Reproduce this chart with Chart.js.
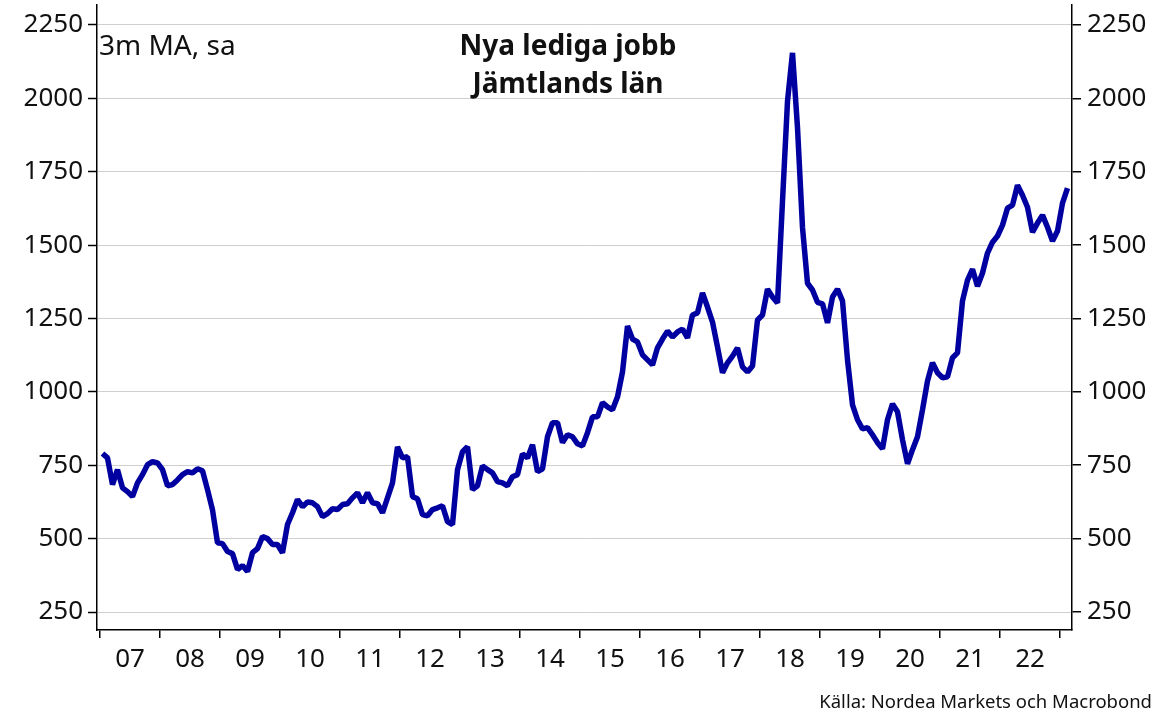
<!DOCTYPE html>
<html>
<head>
<meta charset="utf-8">
<script src="https://cdn.jsdelivr.net/npm/chart.js@4.4.1/dist/chart.umd.min.js"></script>
<style>
    body { margin: 0; background: #fff; font-family: "Noto Sans", sans-serif; }
    #wrap { position: relative; width: 1161px; height: 714px; }
    .txt { position: absolute; color: #111; white-space: nowrap; }
    #title { left: 368px; width: 400px; top: 25px; text-align: center; font-weight: bold; font-size: 28px; line-height: 38px; }
    #note { left: 99px; top: 25px; font-size: 28px; line-height: 38px; }
    #source { right: 9px; top: 688px; font-size: 18.5px; line-height: 25px; }
</style>
</head>
<body>
<div id="wrap">
    <canvas id="myChart" width="1161" height="714"></canvas>
    <div class="txt" id="title">Nya lediga jobb<br>Jämtlands län</div>
    <div class="txt" id="note">3m MA, sa</div>
    <div class="txt" id="source">Källa: Nordea Markets och Macrobond</div>
</div>
<script>
// DATA (monthly, Jan 2007 onwards)

const years = ['07', '08', '09', '10', '11', '12', '13', '14', '15', '16', '17', '18', '19', '20', '21', '22'];

const yTicks = [250, 500, 750, 1000, 1250, 1500, 1750, 2000, 2250];

const vacancies = [
    790, 775, 684, 735, 673, 660, 643, 690, 718, 752, 762, 758,
    735, 680, 684, 700, 718, 728, 724, 738, 731, 667, 598, 486,
    483, 456, 449, 395, 408, 388, 452, 466, 507, 500, 480, 480,
    452, 548, 588, 633, 609, 625, 622, 609, 575, 585, 602, 599,
    616, 619, 639, 656, 622, 656, 622, 619, 588, 639, 690, 813,
    775, 779, 643, 636, 582, 578, 599, 605, 612, 558, 548, 735,
    796, 813, 667, 680, 748, 735, 724, 694, 690, 680, 711, 718,
    789, 775, 820, 728, 738, 847, 895, 895, 827, 854, 847, 823,
    816, 861, 915, 915, 963, 949, 939, 983, 1068, 1224, 1180, 1170,
    1126, 1109, 1092, 1150, 1180, 1207, 1187, 1204, 1214, 1184, 1262, 1269,
    1337, 1289, 1238, 1153, 1065, 1099, 1122, 1150, 1085, 1068, 1088, 1245,
    1262, 1350, 1323, 1303, 1650, 1990, 2155, 1900, 1560, 1370, 1347, 1305,
    1300, 1235, 1323, 1350, 1310, 1109, 956, 905, 874, 878, 854, 827,
    806, 905, 959, 932, 837, 755, 803, 847, 939, 1037, 1099, 1065,
    1048, 1051, 1116, 1133, 1310, 1381, 1418, 1360, 1405, 1473, 1510, 1531,
    1568, 1626, 1636, 1704, 1670, 1629, 1544, 1575, 1602, 1561, 1514, 1548,
    1643, 1694
];

// CHART

const xMin = -1.1;
const xMax = 193.9;
const yMin = 188.7;
const yMax = 2318;

const tickFont = { family: '"Noto Sans", sans-serif', size: 26 };

function noPadY(s, w) {
    s.width = w;
    s.paddingTop = 0;
    s.paddingBottom = 0;
}

function noPadX(s, h) {
    s.height = h;
    s.paddingLeft = 0;
    s.paddingRight = 0;
}

const ctx = document.getElementById("myChart").getContext("2d");

new Chart(ctx, {
    type: 'line',
    data: {
        datasets: [{
            data: vacancies.map((v, i) => ({ x: i, y: v })),
            borderColor: '#0000a0',
            borderWidth: 5.5,
            borderJoinStyle: 'bevel',
            pointRadius: 0,
            tension: 0,
            fill: false
        }]
    },
    options: {
        responsive: false,
        animation: false,
        layout: { padding: { top: 5, left: 0, right: 0, bottom: 0 } },
        plugins: { legend: { display: false }, tooltip: { enabled: false } },
        scales: {
            x: {
                type: 'linear', position: 'bottom', min: xMin, max: xMax, weight: 0,
                afterBuildTicks: s => { s.ticks = years.concat(['']).map((_, k) => ({ value: 12 * k - 0.5 })); },
                ticks: { display: false },
                grid: { drawOnChartArea: false, drawTicks: true, tickLength: 8, color: '#000', lineWidth: 1.5 },
                border: { color: '#000', width: 1.5 },
                afterFit: s => noPadX(s, 10)
            },
            x2: {
                type: 'linear', position: 'bottom', min: xMin, max: xMax, weight: 1,
                afterBuildTicks: s => { s.ticks = years.map((_, k) => ({ value: 12 * k + 5.5 })); },
                ticks: {
                    font: tickFont, color: '#111', padding: 4, maxRotation: 0, autoSkip: false,
                    callback: (v, idx) => years[idx]
                },
                grid: { display: false, drawTicks: false },
                border: { display: false },
                afterFit: s => noPadX(s, 74)
            },
            y: {
                position: 'left', min: yMin, max: yMax,
                afterBuildTicks: s => { s.ticks = yTicks.map(v => ({ value: v })); },
                ticks: { font: tickFont, color: '#111', padding: 5, callback: v => String(v) },
                grid: { color: '#cfcfcf', lineWidth: 1, tickLength: 9, tickColor: '#000', tickWidth: 1.5 },
                border: { color: '#000', width: 1.5 },
                afterFit: s => noPadY(s, 97)
            },
            yRight: {
                position: 'right', min: yMin, max: yMax,
                afterBuildTicks: s => { s.ticks = yTicks.map(v => ({ value: v })); },
                ticks: { font: tickFont, color: '#111', padding: 6, callback: v => String(v) },
                grid: { drawOnChartArea: false, tickLength: 9, color: '#000', lineWidth: 1.5 },
                border: { color: '#000', width: 1.5 },
                afterFit: s => noPadY(s, 89)
            }
        }
    }
});
</script>
</body>
</html>
